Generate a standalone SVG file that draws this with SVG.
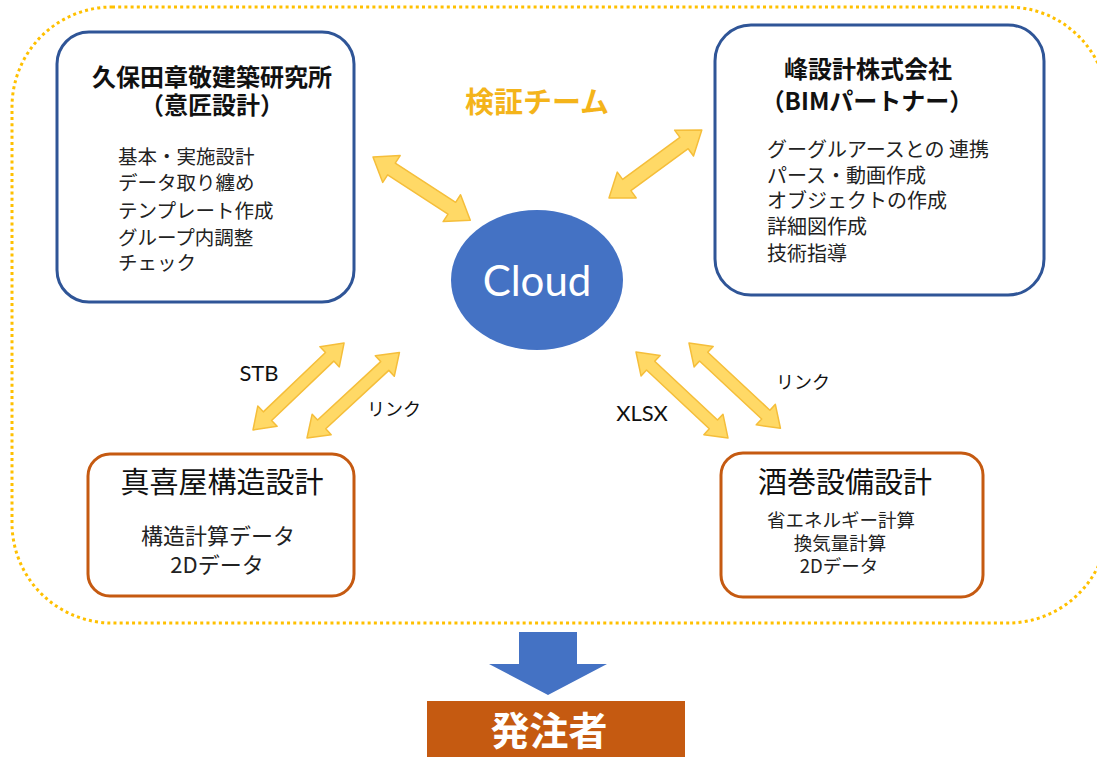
<svg xmlns="http://www.w3.org/2000/svg" width="1097" height="757" viewBox="0 0 1097 757">
<style>
.jp{font-family:"Noto Sans CJK JP","Noto Sans",sans-serif;}
.lat{font-family:Lato,"Liberation Sans",sans-serif;}
.title{font-size:24px;font-weight:bold;fill:#111;text-anchor:middle;}
.item{font-size:19.5px;fill:#222;}
.btitle{font-size:29px;fill:#111;text-anchor:middle;}
.bitem{font-size:20px;fill:#222;text-anchor:middle;}
.blue{fill:#fff;stroke:#2F5597;stroke-width:3;}
.orange{fill:#fff;stroke:#C55A11;stroke-width:3;}
.dbl{fill:#FFD966;stroke:#F5BE3A;stroke-width:1.5;stroke-linejoin:round;}
.lbl{font-size:22px;fill:#111;}
</style>
<rect x="12" y="7" width="1096" height="616" rx="100" ry="100" fill="none" stroke="#FFC000" stroke-width="3" stroke-dasharray="3 3.2"/>

<g id="kubota">
<rect class="blue" x="57" y="32" width="297" height="270" rx="32"/>
<text class="jp title"><tspan x="212" y="86">久保田章敬建築研究所</tspan><tspan x="212" y="114">（意匠設計）</tspan></text>
<text class="jp item"><tspan x="118" y="164">基本・実施設計</tspan><tspan x="118" y="190">データ取り纏め</tspan><tspan x="118" y="218">テンプレート作成</tspan><tspan x="118" y="245">グループ内調整</tspan><tspan x="118" y="270">チェック</tspan></text>
</g>

<g id="mine">
<rect class="blue" x="715" y="25" width="329" height="270" rx="36"/>
<text class="jp title"><tspan x="868" y="78">峰設計株式会社</tspan><tspan x="867" y="110">（BIMパートナー）</tspan></text>
<text class="jp item" style="font-size:20px"><tspan x="767" y="157">グーグルアースとの 連携</tspan><tspan x="767" y="183">パース・動画作成</tspan><tspan x="767" y="208">オブジェクトの作成</tspan><tspan x="767" y="234">詳細図作成</tspan><tspan x="767" y="261">技術指導</tspan></text>
</g>

<g id="team">
<text class="jp" x="537" y="113" font-size="29" font-weight="bold" fill="#F4B41A" text-anchor="middle">検証チーム</text>
</g>

<g id="cloud">
<ellipse cx="537" cy="280" rx="86" ry="70" fill="#4472C4"/>
<text class="lat" x="537" y="296" font-size="42" fill="#fff" text-anchor="middle">Cloud</text>
</g>

<g id="makiya">
<rect class="orange" x="88" y="454" width="266" height="142" rx="22"/>
<text class="jp btitle" x="222" y="493">真喜屋構造設計</text>
<text class="jp bitem" style="font-size:22px"><tspan x="218" y="544">構造計算データ</tspan><tspan x="217" y="573">2Dデータ</tspan></text>
</g>

<g id="sakamaki">
<rect class="orange" x="721" y="453" width="262" height="144" rx="22"/>
<text class="jp btitle" x="845" y="493">酒巻設備設計</text>
<text class="jp bitem" style="font-size:18.5px"><tspan x="841" y="527">省エネルギー計算</tspan><tspan x="840" y="550">換気量計算</tspan><tspan x="839" y="573">2Dデータ</tspan></text>
</g>

<g id="connectors">
<path class="dbl" transform="translate(373,157) rotate(33)" d="M0,0 L22,-16 L22,-7 L94,-7 L94,-16 L116,0 L94,16 L94,7 L22,7 L22,16 Z"/>
<path class="dbl" transform="translate(609,198) rotate(-36.2)" d="M0,0 L22,-16 L22,-7 L93,-7 L93,-16 L115,0 L93,16 L93,7 L22,7 L22,16 Z"/>
<path class="dbl" transform="translate(253,430) rotate(-43.7)" d="M0,0 L20,-14 L20,-6 L106,-6 L106,-14 L126,0 L106,14 L106,6 L20,6 L20,14 Z"/>
<path class="dbl" transform="translate(307,438) rotate(-42.8)" d="M0,0 L20,-14 L20,-6 L106,-6 L106,-14 L126,0 L106,14 L106,6 L20,6 L20,14 Z"/>
<path class="dbl" transform="translate(636,352) rotate(43.1)" d="M0,0 L20,-14 L20,-6 L106,-6 L106,-14 L126,0 L106,14 L106,6 L20,6 L20,14 Z"/>
<path class="dbl" transform="translate(689,343) rotate(43)" d="M0,0 L20,-14 L20,-6 L105,-6 L105,-14 L125,0 L105,14 L105,6 L20,6 L20,14 Z"/>
<text class="lat lbl" x="259" y="381" text-anchor="middle">STB</text>
<text class="jp lbl" x="367" y="416" style="font-size:18px">リンク</text>
<text class="lat lbl" x="642" y="421" text-anchor="middle">XLSX</text>
<text class="jp lbl" x="776" y="389" style="font-size:18px">リンク</text>
<path d="M519,632 L577,632 L577,664 L607,664 L548,695 L489,664 L519,664 Z" fill="#4472C4"/>
</g>

<g id="client">
<rect x="427" y="701" width="258" height="60" fill="#C55A11"/>
<text class="jp" x="549" y="745" font-size="39" font-weight="bold" fill="#fff" text-anchor="middle">発注者</text>
</g>
</svg>
